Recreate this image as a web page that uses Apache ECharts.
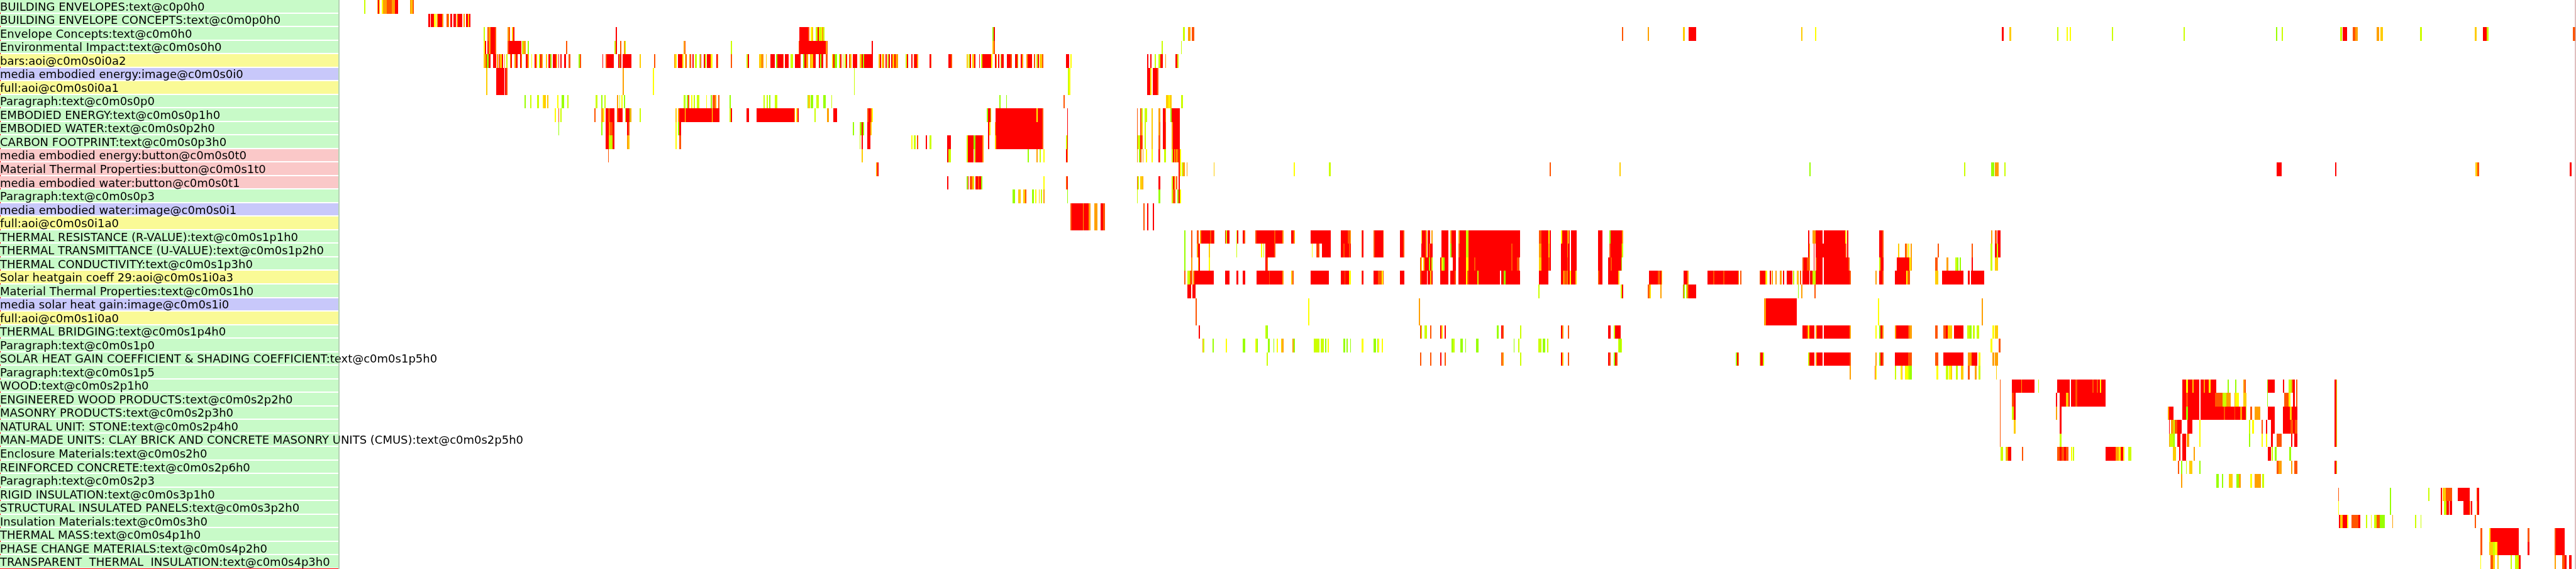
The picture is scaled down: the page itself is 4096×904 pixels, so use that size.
<!DOCTYPE html>
<html><head><meta charset="utf-8"><style>html,body{margin:0;padding:0;background:#fff}#c{width:4096px;height:904px}</style>
<script src="https://cdn.jsdelivr.net/npm/echarts@6/dist/echarts.min.js"></script></head>
<body><div id="c"></div><script>
const categories=["BUILDING ENVELOPES:text@c0p0h0","BUILDING ENVELOPE CONCEPTS:text@c0m0p0h0","Envelope Concepts:text@c0m0h0","Environmental Impact:text@c0m0s0h0","bars:aoi@c0m0s0i0a2","media embodied energy:image@c0m0s0i0","full:aoi@c0m0s0i0a1","Paragraph:text@c0m0s0p0","EMBODIED ENERGY:text@c0m0s0p1h0","EMBODIED WATER:text@c0m0s0p2h0","CARBON FOOTPRINT:text@c0m0s0p3h0","media embodied energy:button@c0m0s0t0","Material Thermal Properties:button@c0m0s1t0","media embodied water:button@c0m0s0t1","Paragraph:text@c0m0s0p3","media embodied water:image@c0m0s0i1","full:aoi@c0m0s0i1a0","THERMAL RESISTANCE (R-VALUE):text@c0m0s1p1h0","THERMAL TRANSMITTANCE (U-VALUE):text@c0m0s1p2h0","THERMAL CONDUCTIVITY:text@c0m0s1p3h0","Solar heatgain coeff 29:aoi@c0m0s1i0a3","Material Thermal Properties:text@c0m0s1h0","media solar heat gain:image@c0m0s1i0","full:aoi@c0m0s1i0a0","THERMAL BRIDGING:text@c0m0s1p4h0","Paragraph:text@c0m0s1p0","SOLAR HEAT GAIN COEFFICIENT & SHADING COEFFICIENT:text@c0m0s1p5h0","Paragraph:text@c0m0s1p5","WOOD:text@c0m0s2p1h0","ENGINEERED WOOD PRODUCTS:text@c0m0s2p2h0","MASONRY PRODUCTS:text@c0m0s2p3h0","NATURAL UNIT: STONE:text@c0m0s2p4h0","MAN-MADE UNITS: CLAY BRICK AND CONCRETE MASONRY UNITS (CMUS):text@c0m0s2p5h0","Enclosure Materials:text@c0m0s2h0","REINFORCED CONCRETE:text@c0m0s2p6h0","Paragraph:text@c0m0s2p3","RIGID INSULATION:text@c0m0s3p1h0","STRUCTURAL INSULATED PANELS:text@c0m0s3p2h0","Insulation Materials:text@c0m0s3h0","THERMAL MASS:text@c0m0s4p1h0","PHASE CHANGE MATERIALS:text@c0m0s4p2h0","TRANSPARENT  THERMAL  INSULATION:text@c0m0s4p3h0"];
const kinds="gggg"+"ybyg"+"ggg"+"pppg"+"by"+"ggg"+"ygby"+"ggg"+"g"+"gggggg"+"ggg"+"ggg"+"ggg";
const kindColors={g:"#c8fac8",y:"#fafa96",b:"#c8c8fa",p:"#fac8c8"};
const levelColors=["#99ff00","#ccff00","#ffff00","#ffcc00","#ffa000","#ff5500","#ff0000"];
const G=0,L=1,Y=2,C=3,A=4,O=5,R=6;
const r01=[[969,972,L],[1003,1006,A],[1006,1008,R],[1008,1011,Y],[1016,1019,Y],[1019,1028,A],[1028,1033,O],[1033,1043,O],[1043,1051,A],[1051,1059,R],[1090,1094,A],[1094,1097,C],[1097,1101,O]];
const r02=[[1140,1144,R],[1146,1155,R],[1155,1159,Y],[1161,1164,C],[1164,1176,R],[1176,1179,A],[1188,1192,O],[1192,1194,A],[1197,1203,R],[1206,1212,R],[1215,1218,A],[1218,1230,R],[1233,1236,A],[1239,1245,R],[1245,1248,C],[1248,1251,R]];
const r03=[[1287,1290,L],[1296,1299,O],[1299,1305,A],[1305,1317,R],[1317,1320,O],[1350,1353,A],[1353,1356,O],[1362,1365,C],[1365,1368,R],[1638,1641,R],[2127,2150,R],[2150,2153,O],[2157,2160,Y],[2160,2163,C],[2169,2175,L],[2175,2178,R],[2178,2184,L],[2184,2187,Y],[2187,2190,A],[2190,2193,L],[2640,2643,G],[2643,2646,R],[3147,3152,L],[3160,3167,A],[3170,3177,O],[4314,4317,O],[4383,4386,A],[4477,4482,C],[4491,4511,R],[4791,4794,C],[4828,4831,Y],[5324,5329,R],[5344,5349,C],[5472,5475,L],[5497,5500,Y],[5505,5508,Y],[5617,5620,L],[5808,5811,L],[6054,6057,G],[6069,6072,L],[6224,6229,L],[6231,6243,R],[6258,6265,O],[6265,6272,A],[6322,6329,A],[6332,6339,C],[6437,6442,L],[6582,6587,C],[6604,6614,R],[6614,6619,L],[6843,6850,O]];
const r04=[[1287,1290,Y],[1290,1293,R],[1296,1299,R],[1299,1305,A],[1305,1317,R],[1317,1320,O],[1350,1353,O],[1353,1386,R],[1389,1392,L],[1392,1398,A],[1404,1407,G],[1506,1509,O],[1635,1638,L],[1638,1641,R],[1650,1653,O],[1659,1662,A],[1662,1665,L],[1818,1821,A],[1821,1824,O],[1944,1947,L],[2124,2127,O],[2127,2196,R],[2196,2199,A],[2199,2202,O],[2319,2322,R],[2640,2643,C],[2643,2646,O],[3090,3093,L],[3141,3144,L]];
const r05=[[1287,1290,C],[1290,1293,A],[1293,1295,R],[1295,1299,G],[1299,1305,R],[1311,1320,R],[1322,1325,A],[1326,1329,R],[1329,1332,A],[1332,1335,C],[1335,1338,R],[1341,1344,A],[1347,1350,L],[1356,1359,A],[1359,1362,R],[1368,1371,A],[1371,1374,O],[1374,1377,R],[1383,1386,R],[1386,1389,A],[1398,1404,R],[1404,1407,A],[1413,1416,Y],[1422,1425,R],[1425,1428,A],[1434,1437,L],[1437,1440,R],[1440,1443,A],[1452,1455,C],[1458,1464,R],[1464,1467,G],[1470,1479,R],[1479,1482,A],[1485,1488,R],[1491,1494,R],[1500,1506,R],[1512,1518,O],[1539,1542,G],[1542,1545,O],[1602,1605,R],[1611,1614,O],[1614,1632,R],[1644,1647,R],[1647,1650,G],[1650,1653,R],[1656,1680,R],[1701,1704,C],[1740,1743,O],[1794,1797,A],[1797,1800,Y],[1803,1815,R],[1815,1818,Y],[1821,1824,Y],[1824,1827,O],[1833,1836,A],[1836,1839,R],[1842,1845,R],[1848,1854,L],[1860,1863,L],[1863,1866,R],[1872,1875,R],[1875,1878,L],[1881,1890,R],[1890,1896,Y],[1905,1908,R],[1908,1911,A],[1944,1947,O],[1986,1989,L],[1989,1992,R],[2019,2025,C],[2025,2028,O],[2028,2031,A],[2037,2040,C],[2049,2061,R],[2064,2067,G],[2067,2082,R],[2082,2085,O],[2088,2097,R],[2103,2109,L],[2115,2130,R],[2136,2139,G],[2139,2145,R],[2145,2150,A],[2154,2157,A],[2157,2163,C],[2163,2169,R],[2178,2181,R],[2181,2184,G],[2184,2190,R],[2196,2202,O],[2214,2217,C],[2217,2220,R],[2220,2226,G],[2232,2235,L],[2235,2238,R],[2241,2244,C],[2247,2250,L],[2250,2253,R],[2259,2262,O],[2262,2265,C],[2268,2280,R],[2286,2292,C],[2292,2295,R],[2295,2298,G],[2298,2322,R],[2337,2340,C],[2340,2343,R],[2346,2349,C],[2349,2352,A],[2355,2358,R],[2361,2364,L],[2364,2367,R],[2370,2373,R],[2373,2379,C],[2379,2382,R],[2382,2388,A],[2409,2412,L],[2412,2415,R],[2424,2427,R],[2430,2433,O],[2433,2439,R],[2439,2442,A],[2472,2475,R],[2475,2478,O],[2523,2529,R],[2529,2532,O],[2571,2574,C],[2577,2580,L],[2580,2583,R],[2586,2592,C],[2592,2595,R],[2604,2607,R],[2610,2613,L],[2613,2637,R],[2637,2640,Y],[2646,2649,R],[2649,2652,A],[2655,2658,R],[2661,2664,L],[2664,2670,R],[2679,2688,R],[2688,2691,O],[2700,2706,R],[2706,2709,L],[2715,2718,R],[2718,2721,A],[2730,2733,A],[2733,2745,R],[2751,2754,O],[2757,2760,L],[2760,2763,R],[2766,2772,C],[2772,2775,O],[2835,2844,R],[2847,2850,Y],[3051,3054,R],[3060,3063,R],[3072,3075,L],[3081,3087,L],[3087,3093,R],[3099,3102,A],[3126,3132,R],[3132,3135,L]];
const r06=[[1293,1296,C],[1320,1341,R],[1344,1347,R],[1347,1350,O],[1656,1659,A],[1737,1740,Y],[2271,2274,L],[2841,2844,L],[2844,2847,Y],[3051,3060,R],[3060,3063,Y],[3066,3078,R],[3078,3081,O]];
const r07=r06.slice();
const r08=[[1395,1398,G],[1410,1413,L],[1428,1434,L],[1443,1446,Y],[1446,1452,C],[1455,1458,C],[1482,1485,Y],[1494,1500,G],[1509,1512,L],[1584,1590,L],[1599,1602,G],[1608,1611,L],[1641,1644,A],[1647,1650,L],[1653,1656,Y],[1659,1662,G],[1818,1821,L],[1821,1824,G],[1827,1830,G],[1830,1833,O],[1839,1842,Y],[1845,1848,L],[1854,1860,L],[1878,1881,Y],[1890,1893,G],[1896,1902,O],[1902,1905,A],[1911,1914,O],[1941,1944,G],[2031,2034,L],[2040,2043,L],[2046,2049,G],[2061,2067,L],[2148,2150,G],[2150,2154,C],[2157,2163,G],[2172,2178,L],[2190,2196,G],[2211,2214,L],[2658,2661,G],[2676,2679,G],[2829,2832,O],[3102,3108,C],[3108,3111,Y],[3111,3117,C],[3141,3147,L]];
const r09=[[1476,1479,Y],[1485,1488,O],[1491,1494,L],[1581,1584,O],[1599,1605,A],[1605,1608,Y],[1611,1617,R],[1617,1623,O],[1623,1635,R],[1641,1644,O],[1644,1656,R],[1662,1665,L],[1665,1674,R],[1674,1677,G],[1677,1680,A],[1701,1704,L],[1797,1800,C],[1803,1806,A],[1806,1821,R],[1821,1824,Y],[1824,1893,R],[1893,1896,Y],[1896,1914,R],[1941,1944,L],[1944,1947,R],[1986,1992,R],[2013,2112,R],[2112,2115,A],[2118,2121,Y],[2121,2124,R],[2166,2169,L],[2199,2205,A],[2217,2226,R],[2307,2310,O],[2310,2316,R],[2316,2319,O],[2319,2322,Y],[2625,2628,G],[2628,2634,R],[2634,2637,L],[2648,2757,R],[2757,2760,Y],[2760,2772,R],[2772,2775,O],[2838,2841,R],[3024,3027,O],[3033,3036,O],[3036,3039,L],[3045,3051,L],[3063,3066,C],[3081,3087,A],[3093,3099,R],[3099,3102,A],[3114,3117,G],[3117,3138,R]];
const r10=[[1485,1488,G],[1599,1602,G],[1611,1620,R],[1620,1623,A],[1623,1629,O],[1629,1635,R],[1668,1671,R],[1671,1674,O],[1797,1800,Y],[1803,1806,G],[1806,1812,R],[2268,2271,G],[2286,2289,L],[2289,2292,G],[2292,2295,R],[2295,2298,G],[2307,2316,R],[2316,2319,C],[2628,2631,R],[2631,2634,Y],[2646,2648,C],[2648,2772,R],[2772,2775,O],[2838,2841,R],[3024,3027,O],[3033,3036,O],[3036,3039,C],[3045,3048,L],[3063,3066,C],[3081,3084,A],[3084,3087,O],[3093,3099,R],[3099,3102,O],[3117,3120,A],[3120,3138,R]];
const r11=[[1611,1620,R],[1620,1629,L],[1629,1635,R],[1668,1671,A],[1671,1674,C],[1797,1800,Y],[1806,1812,O],[2286,2289,L],[2292,2295,R],[2307,2316,R],[2424,2427,Y],[2430,2436,L],[2439,2442,O],[2463,2466,R],[2472,2478,L],[2520,2529,R],[2571,2574,L],[2574,2589,R],[2589,2595,G],[2595,2613,R],[2613,2616,A],[2628,2631,R],[2646,2649,C],[2649,2772,R],[2772,2775,O],[2835,2838,L],[2838,2841,R],[3024,3027,O],[3027,3033,L],[3033,3036,R],[3036,3039,O],[3045,3048,L],[3063,3066,C],[3081,3087,O],[3093,3099,R],[3099,3102,O],[3117,3120,A],[3120,3138,R]];
const r12=[[1617,1620,O],[2292,2295,C],[2520,2523,R],[2523,2529,L],[2571,2574,L],[2574,2589,R],[2592,2595,L],[2595,2613,R],[2613,2616,A],[2733,2736,G],[2757,2760,A],[2766,2769,L],[2775,2778,Y],[2835,2838,R],[2838,2841,A],[3024,3027,A],[3030,3033,G],[3033,3036,O],[3039,3042,A],[3048,3051,Y],[3063,3066,Y],[3081,3084,R],[3084,3087,A],[3096,3102,L],[3117,3120,L],[3120,3123,R],[3123,3126,A],[3126,3129,R],[3129,3132,A],[3132,3135,O],[3135,3138,R],[3138,3141,Y]];
const r13=[[2331,2334,A],[2334,2337,R],[3135,3138,R],[3138,3141,Y],[3144,3147,L],[3147,3152,A],[3156,3159,A],[3228,3231,C],[3441,3444,Y],[3534,3540,L],[4122,4125,O],[4308,4311,C],[4813,4816,G],[5224,5227,L],[5297,5305,G],[5307,5317,A],[5332,5335,L],[6056,6069,R],[6211,6214,R],[6585,6590,C],[6590,6595,O],[6835,6840,R]];
const r14=[[2520,2523,R],[2571,2574,G],[2574,2577,R],[2580,2586,O],[2586,2589,C],[2589,2592,L],[2595,2601,R],[2601,2604,O],[2604,2610,R],[2610,2613,G],[2775,2778,Y],[2835,2838,O],[2838,2841,R],[3024,3027,O],[3027,3030,L],[3033,3039,C],[3039,3042,A],[3081,3087,R],[3117,3120,L],[3120,3123,R],[3123,3126,A],[3129,3132,O],[3135,3138,R]];
const r15=[[2694,2700,G],[2709,2715,C],[2721,2727,C],[2727,2730,O],[2745,2751,G],[2754,2757,Y],[2763,2766,C],[2769,2772,L],[2775,2778,A],[2838,2841,G],[3024,3027,L],[3081,3087,G],[3117,3120,L],[3120,3126,O],[3132,3135,G],[3135,3138,R],[3138,3141,Y]];
const r16=[[2847,2850,O],[2850,2880,R],[2880,2883,A],[2883,2895,R],[2895,2901,A],[2910,2919,A],[2928,2934,R],[2934,2940,O],[3042,3045,O],[3051,3054,R],[3066,3069,R]];
const r17=r16.slice();
const r18=[[3150,3153,G],[3168,3171,O],[3183,3189,O],[3192,3195,A],[3195,3219,R],[3219,3222,O],[3222,3228,R],[3228,3231,O],[3258,3261,R],[3261,3264,L],[3264,3270,R],[3288,3291,L],[3291,3294,R],[3306,3309,R],[3309,3312,O],[3339,3342,O],[3342,3390,R],[3390,3393,O],[3393,3411,R],[3411,3414,A],[3435,3441,R],[3441,3444,A],[3486,3540,R],[3567,3585,R],[3585,3591,O],[3591,3594,A],[3621,3624,O],[3624,3627,R],[3654,3657,O],[3657,3678,R],[3678,3681,O],[3723,3732,R],[3732,3735,O],[3780,3783,C],[3783,3792,R],[3792,3795,A],[3798,3804,R],[3807,3810,A],[3834,3852,R],[3858,3861,A],[3861,3873,R],[3879,3882,A],[3882,3900,R],[3900,3906,L],[3906,4044,R],[4094,4100,O],[4100,4119,R],[4119,4122,Y],[4122,4125,R],[4152,4155,Y],[4155,4168,R],[4168,4173,A],[4173,4176,R],[4179,4194,R],[4251,4263,R],[4281,4284,G],[4284,4314,R],[4314,4317,A],[4809,4812,R],[4821,4830,A],[4830,4848,R],[4851,4908,R],[4908,4911,Y],[4914,4917,R],[4998,5007,R],[5007,5010,O],[5296,5299,A],[5307,5311,O],[5313,5322,R]];
const r19=[[3150,3153,G],[3168,3171,O],[3183,3186,A],[3186,3192,R],[3216,3219,C],[3288,3291,L],[3354,3357,Y],[3360,3363,L],[3366,3390,R],[3390,3393,O],[3489,3492,Y],[3501,3504,O],[3504,3507,R],[3507,3510,O],[3516,3540,R],[3567,3573,R],[3573,3576,O],[3576,3588,R],[3588,3591,O],[3591,3594,R],[3621,3624,O],[3624,3627,R],[3654,3657,O],[3657,3678,R],[3678,3681,O],[3723,3732,R],[3732,3735,O],[3780,3792,R],[3792,3795,A],[3798,3801,R],[3801,3804,O],[3804,3810,R],[3834,3852,R],[3858,3861,G],[3861,3873,R],[3879,3882,O],[3882,3900,R],[3900,3906,L],[3906,4020,R],[4020,4023,O],[4023,4044,R],[4094,4100,A],[4100,4119,R],[4119,4122,C],[4122,4125,R],[4152,4168,R],[4168,4171,A],[4171,4176,R],[4179,4194,R],[4251,4263,R],[4281,4284,O],[4284,4312,R],[4312,4314,O],[4314,4317,L],[4809,4812,R],[4812,4815,C],[4824,4827,R],[4830,4908,R],[4908,4911,O],[4914,4917,R],[4998,5007,R],[5007,5010,O],[5049,5052,C],[5067,5070,O],[5070,5073,A],[5076,5079,Y],[5082,5085,A],[5154,5157,O],[5244,5247,O],[5294,5300,L],[5307,5312,R],[5312,5315,L],[5315,5322,R]];
const r20=[[3150,3153,G],[3168,3171,A],[3186,3189,C],[3189,3192,R],[3216,3219,Y],[3366,3369,R],[3369,3372,O],[3777,3780,O],[3780,3783,Y],[3786,3789,C],[3789,3801,R],[3801,3804,G],[3804,3807,R],[3807,3810,L],[3831,3834,R],[3834,3837,Y],[3837,3840,L],[3840,3843,G],[3843,3852,R],[3864,3873,R],[3879,3900,R],[3900,3906,Y],[3906,3921,R],[3921,3924,O],[3924,4020,R],[4020,4023,O],[4023,4035,R],[4035,4041,O],[4094,4100,C],[4100,4119,R],[4119,4122,O],[4122,4125,R],[4152,4168,R],[4168,4171,O],[4171,4176,R],[4179,4194,R],[4251,4263,R],[4278,4284,R],[4284,4287,O],[4287,4312,R],[4312,4314,G],[4794,4797,O],[4797,4806,R],[4806,4812,O],[4812,4815,A],[4824,4827,R],[4830,4833,O],[4833,4848,R],[4851,4917,R],[4917,4920,O],[4998,5001,L],[5001,5010,R],[5046,5079,R],[5079,5082,Y],[5082,5085,A],[5147,5154,O],[5178,5183,A],[5201,5206,L],[5206,5209,G],[5212,5216,G],[5244,5247,R],[5294,5300,L],[5307,5315,C]];
const r21=[[3150,3153,O],[3159,3165,L],[3165,3171,O],[3174,3177,A],[3177,3228,R],[3258,3270,R],[3288,3294,R],[3306,3312,R],[3342,3375,R],[3375,3378,O],[3378,3411,R],[3411,3414,A],[3435,3438,C],[3438,3441,O],[3486,3534,R],[3567,3576,R],[3576,3579,O],[3579,3588,R],[3588,3594,Y],[3621,3624,O],[3624,3627,R],[3654,3666,R],[3666,3675,O],[3675,3678,Y],[3678,3681,O],[3723,3735,R],[3777,3780,O],[3780,3795,R],[3798,3804,R],[3804,3807,C],[3807,3810,R],[3831,3852,R],[3858,3870,R],[3870,3873,O],[3879,3900,R],[3900,3903,Y],[3903,3906,O],[3906,3930,R],[3930,3933,L],[3933,3990,R],[3993,3999,R],[3999,4005,G],[4005,4044,R],[4094,4119,R],[4152,4158,R],[4158,4161,Y],[4161,4168,O],[4168,4171,A],[4171,4176,R],[4176,4179,Y],[4179,4191,R],[4191,4194,C],[4251,4254,O],[4254,4263,R],[4278,4305,R],[4305,4308,C],[4386,4410,R],[4410,4416,O],[4416,4419,R],[4419,4422,Y],[4479,4488,R],[4488,4491,A],[4542,4557,R],[4557,4560,O],[4560,4584,R],[4584,4587,O],[4587,4623,R],[4623,4626,A],[4629,4632,O],[4680,4683,O],[4683,4695,R],[4695,4698,C],[4698,4701,Y],[4707,4710,R],[4713,4716,A],[4722,4725,A],[4734,4740,A],[4743,4746,R],[4752,4767,R],[4770,4773,L],[4779,4782,C],[4782,4785,A],[4788,4791,O],[4794,4812,R],[4815,4821,R],[4821,4830,L],[4830,4848,R],[4851,4920,R],[4920,4923,O],[4989,4992,A],[4998,5007,R],[5007,5010,O],[5040,5070,R],[5070,5073,Y],[5073,5081,O],[5147,5155,C],[5166,5222,R],[5235,5240,R],[5243,5278,R]];
const r22=[[3159,3168,R],[3171,3180,R],[4092,4095,L],[4311,4314,L],[4314,4317,R],[4383,4386,O],[4386,4389,A],[4389,4392,Y],[4416,4419,A],[4476,4479,O],[4479,4482,G],[4485,4488,L],[4488,4491,O],[4491,4512,R],[4782,4785,G],[4791,4794,A],[4827,4830,O]];
const r23=[[3180,3183,O],[3480,3483,Y],[3774,3777,A],[4692,4698,A],[4698,4779,R],[4995,4998,Y],[5271,5274,A]];
const r24=r23.slice();
const r25=[[3189,3192,R],[3366,3369,L],[3369,3372,G],[3777,3780,O],[3780,3783,L],[3789,3795,L],[3804,3807,O],[3831,3834,R],[3834,3837,Y],[3843,3846,R],[3981,3987,G],[3993,3996,R],[3996,3999,O],[4044,4047,L],[4152,4155,R],[4155,4158,A],[4170,4173,O],[4278,4284,R],[4293,4296,L],[4296,4311,R],[4794,4806,R],[4806,4809,O],[4809,4812,Y],[4812,4827,R],[4830,4833,A],[4833,4848,R],[4851,4920,R],[4920,4923,A],[4989,4992,Y],[4998,5001,G],[5001,5007,R],[5007,5010,A],[5040,5043,A],[5043,5076,R],[5076,5079,O],[5079,5085,A],[5147,5154,O],[5169,5176,O],[5176,5181,R],[5181,5193,C],[5197,5222,R],[5233,5240,L],[5240,5245,G],[5247,5252,L],[5258,5264,L],[5300,5305,Y],[5307,5315,C]];
const r26=[[3198,3201,A],[3201,3204,L],[3225,3228,G],[3261,3264,Y],[3306,3312,G],[3339,3342,Y],[3342,3345,G],[3372,3378,G],[3387,3390,G],[3396,3399,Y],[3408,3411,C],[3411,3414,A],[3438,3441,A],[3441,3444,G],[3495,3510,L],[3513,3522,L],[3525,3528,G],[3531,3534,Y],[3573,3579,G],[3582,3585,G],[3591,3594,G],[3621,3627,Y],[3654,3660,G],[3663,3666,G],[3666,3669,Y],[3675,3678,Y],[3861,3864,G],[3864,3870,L],[3885,3891,G],[3897,3900,G],[3927,3933,G],[4026,4029,G],[4038,4041,L],[4092,4100,L],[4104,4110,G],[4116,4119,L],[4305,4308,L],[4308,4311,G],[4311,4314,L],[5295,5299,Y],[5316,5322,O]];
const r27=[[3369,3372,L],[3777,3780,O],[3804,3807,O],[3831,3834,R],[3843,3846,O],[3993,3996,O],[3996,3999,A],[4044,4047,L],[4152,4155,R],[4155,4158,C],[4170,4173,O],[4278,4281,R],[4281,4284,O],[4293,4296,G],[4296,4299,R],[4299,4302,O],[4617,4620,G],[4620,4623,R],[4623,4626,A],[4680,4683,L],[4683,4689,R],[4689,4692,L],[4809,4812,L],[4812,4827,R],[4830,4833,A],[4833,4848,R],[4851,4920,R],[4920,4923,O],[4989,4992,A],[4998,5001,G],[5001,5007,R],[5007,5010,O],[5040,5076,R],[5076,5085,O],[5147,5155,O],[5169,5222,R],[5235,5245,A],[5245,5260,R],[5263,5268,Y],[5300,5305,A],[5307,5315,A]];
const r28=[[4920,4923,A],[4986,4989,O],[4989,4992,Y],[5040,5043,L],[5055,5058,Y],[5058,5061,A],[5067,5076,Y],[5076,5079,L],[5079,5085,G],[5150,5155,Y],[5176,5182,L],[5185,5190,Y],[5190,5193,C],[5202,5208,L],[5216,5222,C],[5235,5240,O],[5253,5257,A],[5262,5267,L],[5310,5312,C]];
const r29=[[5319,5322,O],[5352,5376,R],[5376,5379,A],[5379,5412,R],[5421,5424,L],[5472,5505,R],[5508,5520,R],[5520,5526,O],[5526,5566,R],[5566,5569,O],[5569,5577,R],[5577,5581,O],[5581,5585,R],[5585,5589,Y],[5589,5601,R],[5805,5814,R],[5814,5820,Y],[5820,5832,R],[5832,5835,C],[5835,5850,R],[5853,5862,R],[5862,5865,A],[5865,5875,R],[5875,5880,Y],[5880,5895,R],[5925,5928,G],[5946,5949,G],[5967,5970,A],[5970,5973,O],[6030,6033,G],[6033,6051,R],[6072,6075,R],[6087,6096,L],[6096,6099,O],[6099,6105,R],[6108,6111,O],[6210,6214,R],[6214,6217,L]];
const r30=[[5319,5322,O],[5352,5356,O],[5356,5361,R],[5469,5472,R],[5478,5496,R],[5496,5502,C],[5502,5505,R],[5508,5520,R],[5520,5526,O],[5526,5601,R],[5805,5814,R],[5814,5820,O],[5820,5850,R],[5853,5892,R],[5892,5901,O],[5901,5912,O],[5912,5922,L],[5922,5934,A],[5943,5946,A],[5946,5955,Y],[5967,5976,C],[6030,6033,G],[6075,6087,O],[6087,6093,Y],[6099,6105,R],[6108,6111,O],[6210,6214,R],[6214,6217,L]];
const r31=[[5319,5322,O],[5352,5356,L],[5356,5361,R],[5469,5472,A],[5478,5484,R],[5766,5769,A],[5769,5781,R],[5805,5814,R],[5814,5820,G],[5820,5850,R],[5853,5916,R],[5916,5919,O],[5919,5943,R],[5943,5946,O],[5946,5959,R],[5959,5964,A],[5964,5973,R],[5973,5976,L],[5986,5991,O],[5998,6012,A],[6033,6051,R],[6072,6091,R],[6091,6096,C],[6096,6111,R],[6210,6214,R],[6214,6217,L]];
const r32=[[5319,5322,O],[5356,5361,C],[5478,5484,R],[5769,5772,R],[5775,5781,A],[5781,5785,L],[5785,5791,O],[5791,5803,R],[5818,5832,R],[5850,5853,Y],[5982,5985,L],[5991,5995,Y],[6016,6019,O],[6027,6030,R],[6040,6051,R],[6072,6092,R],[6092,6099,O],[6099,6105,R],[6105,6111,O],[6210,6214,R],[6214,6217,L]];
const r33=[[5319,5322,O],[5478,5484,L],[5769,5772,A],[5772,5781,L],[5781,5785,G],[5791,5800,R],[5805,5814,R],[5817,5823,A],[5850,5853,Y],[5982,5985,G],[6016,6019,Y],[6027,6030,Y],[6040,6046,R],[6055,6060,O],[6060,6069,O],[6094,6097,R],[6102,6111,R],[6210,6214,R],[6214,6217,L]];
const r34=[[5322,5328,L],[5334,5337,L],[5337,5342,A],[5342,5349,R],[5379,5382,O],[5472,5478,O],[5478,5484,R],[5484,5490,O],[5490,5496,R],[5496,5502,O],[5508,5512,Y],[5514,5517,L],[5601,5628,R],[5628,5636,A],[5636,5641,Y],[5641,5648,R],[5648,5651,Y],[5661,5669,L],[5780,5788,C],[5796,5800,R],[5805,5814,R],[5835,5839,A],[6033,6040,R],[6043,6046,L],[6051,6055,G],[6090,6094,G]];
const r35=[[5793,5796,O],[5802,5805,G],[5814,5817,L],[5823,5832,C],[5850,5853,G],[6055,6060,O],[6060,6069,A],[6094,6097,A],[6102,6111,O],[6210,6214,R],[6214,6217,L]];
const r36=[[5802,5805,A],[5895,5901,G],[5910,5913,G],[5928,5938,C],[5949,5955,G],[5955,5961,A],[5985,5991,Y],[5998,6014,A],[6017,6023,L]];
const r37=[[6219,6222,O],[6357,6360,G],[6459,6462,L],[6492,6495,R],[6498,6505,C],[6505,6522,O],[6537,6547,R],[6548,6570,R],[6588,6590,O],[6590,6594,R]];
const r38=[[6219,6222,Y],[6357,6360,G],[6492,6495,R],[6501,6508,L],[6508,6514,R],[6516,6522,R],[6553,6568,R],[6568,6571,O],[6573,6576,R],[6588,6590,A],[6590,6594,R]];
const r39=[[6222,6225,R],[6225,6232,C],[6232,6243,R],[6243,6246,Y],[6254,6273,O],[6273,6279,R],[6294,6297,L],[6306,6309,Y],[6315,6321,L],[6321,6330,O],[6330,6343,G],[6363,6366,A],[6423,6427,L],[6438,6441,L],[6582,6586,O]];
const r40=[[6597,6603,O],[6621,6625,Y],[6625,6700,R],[6724,6729,O],[6795,6798,O],[6798,6822,R]];
const r41=[[6597,6603,O],[6621,6631,C],[6631,6637,L],[6637,6643,Y],[6643,6700,R],[6724,6729,R],[6795,6798,O],[6798,6822,R]];
const r42=[[6597,6600,Y],[6625,6631,O],[6631,6637,C],[6643,6646,C],[6678,6681,L],[6690,6700,L],[6700,6704,R],[6795,6798,A],[6816,6822,O],[6822,6827,R],[6834,6841,R]];
const rows=[r01,r02,r03,r04,r05,r06,r07,r08,r09,r10,r11,r12,r13,r14,r15,r16,r17,r18,r19,r20,r21,r22,r23,r24,r25,r26,r27,r28,r29,r30,r31,r32,r33,r34,r35,r36,r37,r38,r39,r40,r41,r42];
const X_MAX=6852, PANEL_END=900;
const segData=[];
rows.forEach((row,i)=>row.forEach(s=>segData.push([s[0],s[1],i,s[2]])));
const panelData=categories.map((c,i)=>[0,PANEL_END,i]);
const chart=echarts.init(document.getElementById('c'),null,{renderer:'canvas'});
chart.setOption({
 animation:false,
 grid:{left:0,right:0,top:0,bottom:0,containLabel:false},
 xAxis:{type:'value',min:0,max:X_MAX,show:false},
 yAxis:{type:'category',inverse:true,data:categories,axisLine:{show:false},axisTick:{show:false},splitLine:{show:false},axisLabel:{show:false}},
 series:[
  {type:'custom',name:'panel',silent:true,z:1,clip:false,encode:{x:[0,1],y:2},data:panelData,
   renderItem(p,api){
    const a=api.coord([api.value(0),api.value(2)]),b=api.coord([api.value(1),api.value(2)]);
    const h=api.size([0,1])[1],top=Math.round(a[1]-h/2),bot=Math.round(a[1]+h/2),last=p.dataIndex===categories.length-1;
    const gap=2;
    return {type:'group',children:[
     {type:'rect',shape:{x:a[0],y:top,width:b[0]-a[0],height:bot-top-gap},style:{fill:kindColors[kinds[p.dataIndex]]}},
     {type:'rect',shape:{x:a[0],y:bot-(last?1:gap),width:last?b[0]-a[0]:1,height:last?1:gap},style:{fill:'#ff0000'}},
     {type:'text',z2:5,style:{text:categories[p.dataIndex],x:a[0],y:a[1]-h/2+h*0.56,fill:'#000',fontFamily:'DejaVu Sans',fontSize:18,align:'left',verticalAlign:'middle'}}
    ]};
   }},
  {type:'custom',name:'segments',silent:true,z:2,encode:{x:[0,1],y:2},data:segData,
   renderItem(p,api){
    const a=api.coord([api.value(0),api.value(2)]),b=api.coord([api.value(1),api.value(2)]);
    const h=api.size([0,1])[1];
    const top=Math.round(a[1]-h/2),bot=Math.round(a[1]+h/2);
    const x0=Math.round(a[0]),x1=Math.max(Math.round(b[0]),x0+1);
    return {type:'rect',shape:{x:x0,y:top,width:x1-x0,height:bot-top},style:{fill:levelColors[api.value(3)]}};
   }},
  {type:'custom',name:'dividers',silent:true,z:3,encode:{x:0,y:1},data:[[902,0],[6851,0]],
   renderItem(p,api){
    const a=api.coord([api.value(0),0]);
    const colors=['#6aa56a','#c08080'];
    return {type:'rect',shape:{x:Math.round(a[0])-0.5,y:0,width:1,height:904},style:{fill:colors[p.dataIndex]}};
   }}
 ]
});
</script></body></html>
